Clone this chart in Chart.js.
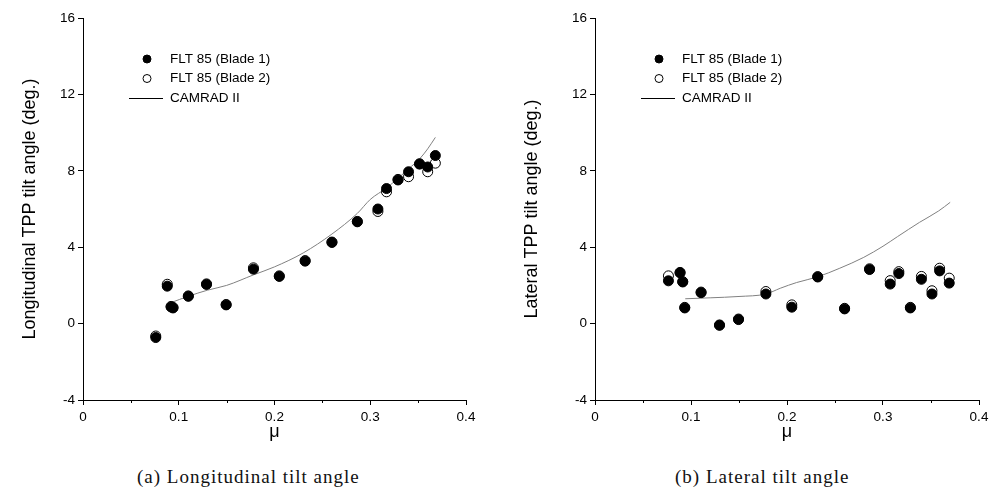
<!DOCTYPE html>
<html>
<head>
<meta charset="utf-8">
<script src="https://cdn.jsdelivr.net/npm/chart.js@4.4.0/dist/chart.umd.min.js"></script>
<style>
  body { margin: 0; background: #fff; }
  #wrap { position: relative; width: 993px; height: 494px; }
  canvas { position: absolute; top: 0; }
  .cap { position: absolute; top: 466px; font-family: 'Liberation Serif', 'Times New Roman', serif; font-size: 19px; letter-spacing: 1px; color: #111; white-space: nowrap; }
</style>
</head>
<body>
<div id="wrap">
  <canvas id="long" width="496" height="460" style="left:0"></canvas>
  <canvas id="lat" width="497" height="460" style="left:496px"></canvas>
  <div class="cap" style="left:137px">(a) Longitudinal tilt angle</div>
  <div class="cap" style="left:675px">(b) Lateral tilt angle</div>
</div>
<script>
// legend labels shared by both panels
const seriesLabels = ['FLT 85 (Blade 1)', 'FLT 85 (Blade 2)', 'CAMRAD II']

// (a) longitudinal tilt
const longMu = [0.076, 0.088, 0.092, 0.094, 0.110, 0.129, 0.1495, 0.178, 0.205, 0.232, 0.260, 0.2865, 0.308, 0.317, 0.329, 0.340, 0.3515, 0.360, 0.368]
const longBlade1 = [-0.73, 1.96, 0.87, 0.82, 1.43, 2.05, 0.98, 2.85, 2.47, 3.27, 4.25, 5.33, 6.0, 7.07, 7.52, 7.95, 8.35, 8.2, 8.8]
const longBlade2 = [-0.65, 2.06, 0.9, 0.85, 1.45, 2.08, 1.0, 2.92, 2.5, 3.3, 4.27, 5.35, 5.87, 6.9, 7.55, 7.69, 8.37, 7.95, 8.4]
const longCamMu = [0.092, 0.11, 0.13, 0.15, 0.178, 0.2, 0.23, 0.26, 0.2865, 0.3, 0.317, 0.33, 0.34, 0.352, 0.36, 0.368]
const longCam = [1.1, 1.43, 1.75, 2.0, 2.55, 2.97, 3.7, 4.69, 5.77, 6.5, 7.1, 7.65, 8.1, 8.65, 9.15, 9.75]

// (b) lateral tilt
const latMu = [0.0765, 0.0886, 0.0914, 0.0935, 0.1105, 0.1297, 0.1495, 0.178, 0.205, 0.232, 0.260, 0.286, 0.3075, 0.3165, 0.3285, 0.340, 0.351, 0.359, 0.369]
const latBlade1 = [2.24, 2.66, 2.18, 0.82, 1.62, -0.09, 0.21, 1.55, 0.86, 2.44, 0.77, 2.83, 2.07, 2.62, 0.82, 2.32, 1.55, 2.76, 2.12]
const latBlade2 = [2.5, 2.68, 2.2, 0.85, 1.65, -0.07, 0.24, 1.68, 0.98, 2.46, 0.8, 2.87, 2.25, 2.72, 0.85, 2.47, 1.72, 2.9, 2.38]
const latCamMu = [0.094, 0.12, 0.15, 0.178, 0.193, 0.21, 0.232, 0.255, 0.28, 0.3, 0.315, 0.338, 0.358, 0.37]
const latCam = [1.3, 1.35, 1.42, 1.55, 1.85, 2.15, 2.45, 2.9, 3.47, 4.05, 4.55, 5.3, 5.9, 6.35]

const muTicks = [0, 0.1, 0.2, 0.3, 0.4]

const isMajor = v => muTicks.some(t => Math.abs(t - v) < 1e-6)
const pts = (xs, ys) => xs.map((x, i) => ({ x, y: ys[i] }))

// short minor ticks at 0.05, 0.15, ...
const minorTicks = {
  id: 'minorTicks',
  afterDraw(chart) {
    const sx = chart.scales.x
    const ctx = chart.ctx
    ctx.save()
    ctx.strokeStyle = '#000'
    ctx.lineWidth = 1
    sx.ticks.forEach(t => {
      if (isMajor(t.value)) return
      const px = Math.round(sx.getPixelForValue(t.value)) + 0.5
      ctx.beginPath()
      ctx.moveTo(px, sx.top)
      ctx.lineTo(px, sx.top + 3)
      ctx.stroke()
    })
    ctx.restore()
  },
}

// legend inside the plot, top-left
const legendBox = {
  id: 'legendBox',
  afterDraw(chart) {
    const { ctx, chartArea } = chart
    const x0 = chartArea.left
    const y0 = chartArea.top
    ctx.save()
    ctx.font = '13.5px "Liberation Sans", Arial, sans-serif'
    ctx.textBaseline = 'middle'
    chart.data.datasets.forEach((ds, i) => {
      const y = y0 + 41 + i * 19.5
      ctx.strokeStyle = '#000'
      ctx.lineWidth = 1
      if (ds.showLine) {
        ctx.beginPath()
        ctx.moveTo(x0 + 46, Math.round(y) + 0.5)
        ctx.lineTo(x0 + 80, Math.round(y) + 0.5)
        ctx.stroke()
      } else {
        ctx.beginPath()
        ctx.arc(x0 + 64, y, 4, 0, Math.PI * 2)
        ctx.fillStyle = ds.pointBackgroundColor
        ctx.fill()
        ctx.stroke()
      }
      ctx.fillStyle = '#000'
      ctx.fillText(ds.label, x0 + 87, y)
    })
    ctx.restore()
  },
}

const tickFont = { family: '"Liberation Sans", Arial, sans-serif', size: 13.5 }
const titleFont = { family: '"Liberation Sans", Arial, sans-serif', size: 18 }

function makeChart(id, mu, blade1, blade2, camMu, cam, yTitle, axisW, padRight, titlePad) {
  return new Chart(document.getElementById(id), {
    type: 'scatter',
    data: {
      datasets: [
        {
          label: seriesLabels[0],
          data: pts(mu, blade1),
          pointRadius: 5,
          pointBackgroundColor: '#000',
          pointBorderColor: '#000',
          pointBorderWidth: 1,
        },
        {
          label: seriesLabels[1],
          data: pts(mu, blade2),
          pointRadius: 5,
          pointBackgroundColor: '#fff',
          pointBorderColor: '#000',
          pointBorderWidth: 1,
        },
        {
          label: seriesLabels[2],
          data: pts(camMu, cam),
          showLine: true,
          borderColor: '#808080',
          borderWidth: 1,
          pointRadius: 0,
          cubicInterpolationMode: 'monotone',
        },
      ],
    },
    options: {
      responsive: false,
      animation: false,
      devicePixelRatio: 1,
      layout: { padding: { top: 18, right: padRight, left: 0, bottom: 0 } },
      plugins: { legend: { display: false }, tooltip: { enabled: false } },
      scales: {
        x: {
          type: 'linear',
          min: 0,
          max: 0.4,
          afterFit: s => { s.height = 60 },
          border: { display: true, color: '#000', width: 1 },
          grid: {
            drawOnChartArea: false,
            tickLength: 5,
            tickColor: c => (isMajor(c.tick.value) ? '#000' : 'rgba(0,0,0,0)'),
          },
          ticks: {
            stepSize: 0.05,
            autoSkip: false,
            maxRotation: 0,
            padding: 4,
            color: '#000',
            font: tickFont,
            callback: v => (isMajor(v) ? (Math.abs(v) < 1e-9 ? '0' : v.toFixed(1)) : ''),
          },
          title: { display: true, text: 'μ', color: '#000', font: titleFont, padding: { top: 0, bottom: 17 } },
        },
        y: {
          min: -4,
          max: 16,
          afterFit: s => { s.width = axisW },
          border: { display: true, color: '#000', width: 1 },
          grid: { drawOnChartArea: false, tickLength: 5, tickColor: '#000' },
          ticks: { stepSize: 4, padding: 3, color: '#000', font: tickFont },
          title: { display: true, text: yTitle, color: '#000', font: titleFont, padding: { top: titlePad, bottom: 0 } },
        },
      },
    },
    plugins: [minorTicks, legendBox],
  })
}

makeChart('long', longMu, longBlade1, longBlade2, longCamMu, longCam, 'Longitudinal TPP tilt angle (deg.)', 83, 30, 19)
makeChart('lat', latMu, latBlade1, latBlade2, latCamMu, latCam, 'Lateral TPP tilt angle (deg.)', 99, 14, 25)
</script>
</body>
</html>
